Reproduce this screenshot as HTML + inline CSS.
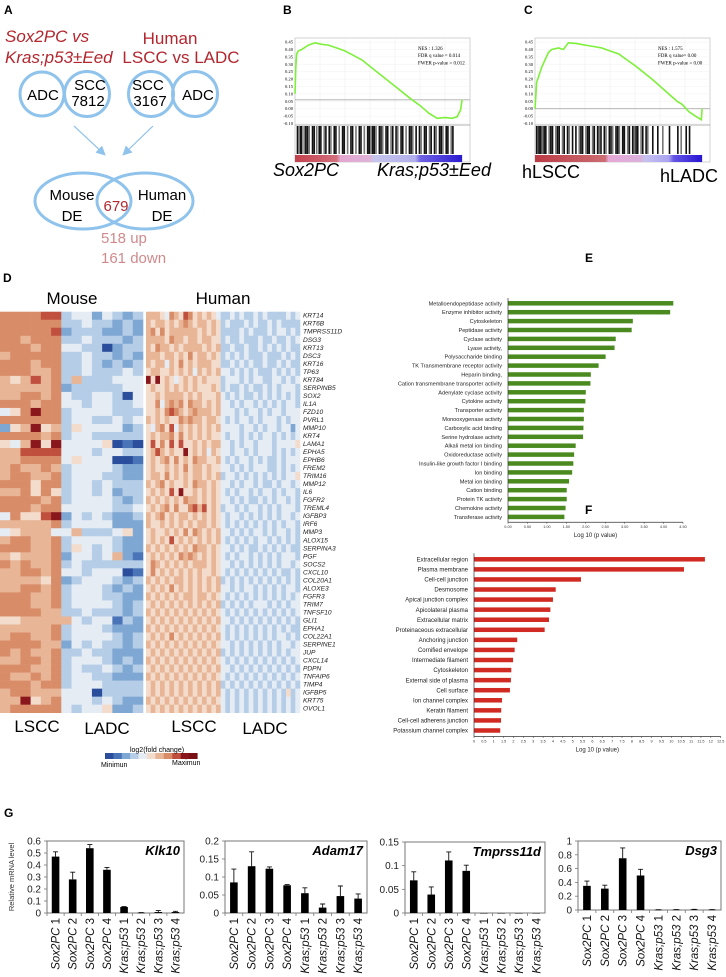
<!DOCTYPE html>
<html><head><meta charset="utf-8">
<style>
html,body{margin:0;padding:0;background:#fff;}
svg{display:block;font-family:"Liberation Sans",sans-serif;}
</style></head>
<body>
<svg id="fig" width="726" height="977" viewBox="0 0 726 977" xmlns="http://www.w3.org/2000/svg">
<defs>
<marker id="ah" markerWidth="8" markerHeight="8" refX="6" refY="4" orient="auto"><path d="M0,0 L8,4 L0,8 z" fill="#8fc3ec"/></marker>
<linearGradient id="rankB" x1="0" x2="1">
<stop offset="0" stop-color="#c2404c"/><stop offset="0.25" stop-color="#d2707c"/><stop offset="0.27" stop-color="#e3a6cf"/><stop offset="0.45" stop-color="#dfb3d8"/><stop offset="0.47" stop-color="#c6c6ec"/><stop offset="0.72" stop-color="#b1afec"/><stop offset="0.75" stop-color="#6f62e3"/><stop offset="1" stop-color="#2a1ad0"/>
</linearGradient>
<linearGradient id="rankC" x1="0" x2="1">
<stop offset="0" stop-color="#bb3a44"/><stop offset="0.42" stop-color="#cc6d72"/><stop offset="0.44" stop-color="#e6a8d6"/><stop offset="0.63" stop-color="#dbb0dc"/><stop offset="0.66" stop-color="#c6c2ef"/><stop offset="0.8" stop-color="#a9a2f0"/><stop offset="0.83" stop-color="#6555e6"/><stop offset="1" stop-color="#2614d2"/>
</linearGradient>
</defs>

<!-- Panel A -->
<g>
<text x="4" y="14" font-size="12" font-weight="bold">A</text>
<text x="5" y="42" font-size="17" font-style="italic" fill="#b3262e">Sox2PC vs</text>
<text x="5" y="63" font-size="17" font-style="italic" fill="#b3262e">Kras;p53±Eed</text>
<text x="170" y="44" font-size="17" text-anchor="middle" fill="#b3262e">Human</text>
<text x="181" y="63" font-size="17" text-anchor="middle" fill="#b3262e">LSCC vs LADC</text>
<circle cx="42" cy="94" r="22" fill="none" stroke="#8fc3ec" stroke-width="3"/>
<circle cx="87" cy="94" r="22.5" fill="none" stroke="#8fc3ec" stroke-width="3"/>
<circle cx="151" cy="94" r="22.5" fill="none" stroke="#8fc3ec" stroke-width="3"/>
<circle cx="195" cy="94" r="22.5" fill="none" stroke="#8fc3ec" stroke-width="3"/>
<text x="43" y="100" font-size="15" text-anchor="middle">ADC</text>
<text x="90" y="90" font-size="15" text-anchor="middle">SCC</text>
<text x="88" y="106" font-size="15" text-anchor="middle">7812</text>
<text x="148" y="90" font-size="15" text-anchor="middle">SCC</text>
<text x="150" y="106" font-size="15" text-anchor="middle">3167</text>
<text x="198" y="100" font-size="15" text-anchor="middle">ADC</text>
<line x1="74" y1="126" x2="104" y2="154" stroke="#8fc3ec" stroke-width="1.2" marker-end="url(#ah)"/>
<line x1="153" y1="126" x2="124" y2="154" stroke="#8fc3ec" stroke-width="1.2" marker-end="url(#ah)"/>
<ellipse cx="83" cy="201" rx="48" ry="28" fill="none" stroke="#8fc3ec" stroke-width="3"/>
<ellipse cx="145" cy="201" rx="48" ry="28" fill="none" stroke="#8fc3ec" stroke-width="3"/>
<text x="72" y="200" font-size="15" text-anchor="middle">Mouse</text>
<text x="72" y="221" font-size="15" text-anchor="middle">DE</text>
<text x="162" y="200" font-size="15" text-anchor="middle">Human</text>
<text x="162" y="221" font-size="15" text-anchor="middle">DE</text>
<text x="116" y="211" font-size="15" text-anchor="middle" fill="#b3262e">679</text>
<text x="101" y="243" font-size="15" fill="#d08a8c">518 up</text>
<text x="101" y="263" font-size="15" fill="#d08a8c">161 down</text>
</g>

<text x="283" y="14" font-size="12" font-weight="bold">B</text>
<text x="524" y="14" font-size="12" font-weight="bold">C</text>
<g id="gseaB"></g>
<g id="gseaC"></g>
<text x="273" y="176" font-size="18" font-style="italic">Sox2PC</text>
<text x="377" y="176" font-size="18" font-style="italic">Kras;p53±Eed</text>
<text x="522" y="178" font-size="18">hLSCC</text>
<text x="718" y="182" font-size="18" text-anchor="end">hLADC</text>

<!-- Panel D -->
<text x="3" y="282" font-size="12" font-weight="bold">D</text>
<text x="72" y="304" font-size="17" text-anchor="middle">Mouse</text>
<text x="223" y="304" font-size="17" text-anchor="middle">Human</text>
<g id="heat"></g>
<text x="37" y="732" font-size="17" text-anchor="middle">LSCC</text>
<text x="107" y="734" font-size="17" text-anchor="middle">LADC</text>
<text x="194" y="732" font-size="17" text-anchor="middle">LSCC</text>
<text x="265" y="734" font-size="17" text-anchor="middle">LADC</text>
<g id="cbar"></g>
<text x="157" y="752" font-size="7" text-anchor="middle">log2(fold change)</text>
<text x="101" y="767" font-size="7">Minimun</text>
<text x="172" y="765" font-size="7">Maximun</text>

<text x="585" y="262" font-size="12" font-weight="bold">E</text>
<text x="585" y="514" font-size="12" font-weight="bold">F</text>
<g id="chartE"></g>
<g id="chartF"></g>

<text x="4" y="817" font-size="12" font-weight="bold">G</text>
<text transform="translate(14,877) rotate(-90)" font-size="7.5" text-anchor="middle" fill="#333">Relative mRNA level</text>
<g id="chartG"></g>
</svg>

<script>
const NS = 'http://www.w3.org/2000/svg';
function mk(parent, tag, attrs, txt) {
  const e = document.createElementNS(NS, tag);
  for (const k in attrs) e.setAttribute(k, attrs[k]);
  if (txt !== undefined) e.textContent = txt;
  parent.appendChild(e);
  return e;
}

/* ---------- GSEA data ---------- */
const esB_x = [0,0.005,0.01,0.02,0.04,0.08,0.12,0.16,0.2,0.25,0.3,0.35,0.4,0.5,0.6,0.7,0.75,0.8,0.85,0.9,0.94,0.97,0.99,1.0];
const esB_y = [0.10,0.28,0.37,0.39,0.40,0.43,0.445,0.435,0.43,0.41,0.39,0.36,0.33,0.24,0.15,0.06,0.02,-0.03,-0.065,-0.06,-0.065,-0.055,-0.01,0.06];
const hitsB = [0.01,0.02,0.03,0.035,0.05,0.06,0.07,0.08,0.1,0.11,0.125,0.14,0.15,0.17,0.18,0.2,0.21,0.23,0.24,0.26,0.28,0.29,0.31,0.33,0.34,0.36,0.38,0.39,0.41,0.43,0.44,0.45,0.46,0.47,0.48,0.5,0.51,0.52,0.54,0.55,0.57,0.58,0.6,0.61,0.63,0.64,0.66,0.68,0.69,0.7,0.72,0.74,0.75,0.77,0.78,0.8,0.81,0.83,0.84,0.86,0.87,0.88,0.9,0.91,0.93,0.94];
const esC_x = [0,0.01,0.02,0.04,0.06,0.08,0.1,0.14,0.17,0.2,0.25,0.3,0.35,0.4,0.45,0.5,0.55,0.6,0.7,0.8,0.85,0.88,0.92,0.96,0.995,1.0];
const esC_y = [0.0,0.18,0.21,0.28,0.33,0.38,0.40,0.41,0.40,0.445,0.44,0.43,0.42,0.41,0.39,0.37,0.33,0.29,0.20,0.10,0.05,0.03,-0.02,-0.05,-0.075,0.0];
const hitsC = [0.005,0.015,0.02,0.03,0.04,0.05,0.06,0.08,0.09,0.1,0.12,0.13,0.14,0.16,0.17,0.19,0.2,0.22,0.24,0.26,0.27,0.28,0.3,0.31,0.32,0.34,0.35,0.37,0.38,0.39,0.41,0.42,0.44,0.45,0.46,0.48,0.49,0.5,0.52,0.53,0.55,0.56,0.58,0.59,0.6,0.61,0.63,0.64,0.66,0.67,0.7,0.73,0.76,0.8,0.85,0.87,0.9,0.92];
const esTicks = [0.45,0.40,0.35,0.30,0.25,0.20,0.15,0.10,0.05,0.00,-0.05,-0.10];

function gsea(gid, x0, x1, esx, esy, hits, zeroVal, grad, stats) {
  const g = document.getElementById(gid);
  const top = 38, y0 = 108.7, per = 7.4 / 0.05;
  const ys = v => y0 - v * per;
  const w = (x1 - x0) * 0.955;
  const xs = f => x0 + f * w;
  const frame = mk(g, 'rect', {x: x0, y: top, width: x1 - x0, height: 124, fill: '#fff', stroke: '#c8c8c8', 'stroke-width': 0.8});
  
  
  for (let i = 1; i < 7; i++) {
    const gl = mk(g, 'line', {x1: x0 + i * (x1 - x0) / 7, x2: x0 + i * (x1 - x0) / 7, y1: top, y2: 125, stroke: '#eee', 'stroke-width': 0.6});
    
    
  }
  esTicks.forEach(t => {
    const gl = mk(g, 'line', {x1: x0, x2: x1, y1: ys(t), y2: ys(t), stroke: '#f0f0f0', 'stroke-width': 0.5});
    
    
    const tl = mk(g, 'text', {x: x0 - 2, y: ys(t) + 1.5, 'font-size': 4.6, 'text-anchor': 'end', 'font-family': 'Liberation Serif, serif'}, t.toFixed(2));
    
    
  });
  const zl = mk(g, 'line', {x1: x0, x2: x1, y1: ys(zeroVal), y2: ys(zeroVal), stroke: '#aaa', 'stroke-width': 0.8});
  
  
  const sep = mk(g, 'line', {x1: x0, x2: x1, y1: 125, y2: 125, stroke: '#999', 'stroke-width': 0.8});
  
  
  let d = '';
  esx.forEach((f, i) => { d += (i ? 'L' : 'M') + xs(f).toFixed(1) + ',' + ys(esy[i]).toFixed(1); });
  const curve = mk(g, 'path', {d: d, fill: 'none', stroke: '#7df03a', 'stroke-width': 1.6});
  
  
  hits.forEach((h, i) => {
    const hl = mk(g, 'rect', {x: xs(h), y: 126, width: 1.6, height: 28, fill: i % 3 === 1 ? '#777' : '#111'});
    
    
  });
  const rb = mk(g, 'rect', {x: x0, y: 155, width: w, height: 7, fill: 'url(#' + grad + ')'});
  
  
  stats.forEach((s, i) => {
    const st = mk(g, 'text', {x: x1 - 52, y: 50 + i * 7.2, 'font-size': 5, 'font-family': 'Liberation Serif, serif'}, s);
    
    
  });
}
gsea('gseaB', 295, 470, esB_x, esB_y, hitsB, 0.06, 'rankB', ['NES : 1.326', 'FDR q value = 0.014', 'FWER p-value = 0.012']);
gsea('gseaC', 535, 710, esC_x, esC_y, hitsC, 0.0, 'rankC', ['NES : 1.575', 'FDR q value= 0.00', 'FWER p-value = 0.00']);

/* ---------- Heatmap data ---------- */
const genes = ['KRT14','KRT6B','TMPRSS11D','DSG3','KRT13','DSC3','KRT16','TP63','KRT84','SERPINB5','SOX2','IL1A','FZD10','PVRL1','MMP10','KRT4','LAMA1','EPHA5','EPHB6','FREM2','TRIM16','MMP12','IL6','FGFR2','TREML4','IGFBP3','IRF6','MMP3','ALOX15','SERPINA3','PGF','SOCS2','CXCL10','COL20A1','ALOXE3','FGFR3','TRIM7','TNFSF10','GLI1','EPHA1','COL22A1','SERPINE1','JUP','CXCL14','PDPN','TNFAIP6','TIMP4','IGFBP5','KRT75','OVOL1'];
const heatRows = [
"777788 34424323 6665476587565654 33434334343333434",
"777777 33433232 6566565676566565 34333434334343333",
"777778 23332232 6757566666656565 33334343334344343",
"776777 33433323 6666576656656655 34334333433433434",
"777677 44330233 6576656566665656 33433433434343433",
"677777 33433232 6665665657566565 34343433343334343",
"777677 33432323 6566465756566655 33434343343343433",
"777667 33433343 5665565656465656 44343434333434343",
"656867 36333444 9595654565656555 34443434433443434",
"666667 23333344 5655656565655565 34334343343434443",
"667767 43344304 5565666656565556 43434334343434343",
"777677 44344334 5574676757665656 44343443434343443",
"457977 34444333 5565787656766656 44434344343443444",
"777777 34433434 6565655767665665 43434434344434344",
"256956 35444423 5467584656565656 44443443434434424",
"777767 34433333 5656675756565655 43443434344343434",
"546959 44445010 5857585855656566 44343443444344445",
"668888 44434433 5686565595656465 44344343444343434",
"667777 45444001 5656757565766556 43434434343343444",
"676676 34444322 5655656575665655 44343434443343434",
"677667 34443322 5665756565665656 34434343434343445",
"777577 34434333 6567565565766565 44343443433434434",
"667575 34434233 5656585955656565 43434434344343443",
"777767 34444323 6565656576656565 44343433434344343",
"777677 44444334 5656757557868565 34434344343434443",
"475589 24343223 6567565665656565 43443434343434434",
"666667 34444222 6556565656566565 43434343434343443",
"456664 46333452 5655656575765656 44343434434344343",
"677667 34444322 5656585656565656 43434343443434343",
"777667 35434322 6565656565766565 44343433434343433",
"656667 24434621 5656565767656565 43434434343434443",
"767667 34333333 5765656565666565 44343434343434434",
"667767 44344401 5756565656565565 43434343434343343",
"666657 23444323 6565656656565656 34343434343434343",
"667767 34443232 5656575656565656 44343443434343443",
"777667 34443322 6565656566566565 43434343434343434",
"777667 34444323 5656565656565656 34343434443434344",
"777766 33433323 6565656565656565 43434343434343434",
"556666 64344132 5656565656565656 44343434343434343",
"666667 34443222 6565656565656565 43434343434343433",
"677667 34444323 5656575656565656 43434343434344343",
"777766 24343323 6565656565656565 44343434343434434",
"767667 33433222 5656565656565656 34343434343434344",
"667767 34443232 6565656565656565 43434343434343434",
"777667 34334323 5656565656565656 44343434343434343",
"766767 34433222 6565656565656565 43434343434343434",
"777677 34443333 5656565656565656 34343434343434343",
"677666 44403333 5656565656565656 43434343434343534",
"669567 44434322 6565656565656565 43434343434343434",
"677777 43445223 5656565656565656 43434343434343434"
];
const heatPalette = ['#2a4d9c','#4a74b8','#7fa7d3','#b5cde6','#e5ecf4','#f3dccc','#e8b597','#d98c68','#c0503d','#8a171c'];

(function () {
  const g = document.getElementById('heat');
  const top = 311.7, rh = 8.02;
  const mW = 143 / 14, hx0 = 146, hW = 154 / 33;
  heatRows.forEach((row, r) => {
    const vals = row.replace(/ /g, '').split('').map(Number);
    vals.forEach((v, c) => {
      const x = c < 14 ? c * mW : hx0 + (c - 14) * hW;
      const w = c < 14 ? mW : hW;
      const cell = mk(g, 'rect', {x: x.toFixed(2), y: (top + r * rh).toFixed(2), width: (w + 0.3).toFixed(2), height: rh + 0.3, fill: heatPalette[v]});
      
      
    });
    const lbl = mk(g, 'text', {x: 303, y: (top + r * rh + 6).toFixed(1), 'font-size': 6.6, 'font-style': 'italic', fill: '#222'}, genes[r]);
    
    
  });
  const cb = document.getElementById('cbar');
  heatPalette.concat(['#7a1015']).forEach((c, i) => {
    const s = mk(cb, 'rect', {x: 105 + i * 8.4, y: 753, width: 8.6, height: 6, fill: c});
    
    
  });
})();

/* ---------- GO bar charts ---------- */
const goE_labels = ['Metalloendopeptidase activity','Enzyme inhibitor activity','Cytoskeleton','Peptidase activity','Cyclase activity','Lyase activity,','Polysaccharide binding','TK Transmembrane receptor  activity','Heparin binding,','Cation transmembrane transporter activity','Adenylate cyclase activity','Cytokine activity','Transporter activity','Monooxygenase activity','Carboxylic acid binding','Serine hydrolase activity','Alkali metal ion binding','Oxidoreductase activity','Insulin-like growth factor I binding','Ion binding','Metal ion binding','Cation binding','Protein TK activity','Chemokine activity','Transferase activity'];
const goE_values = [4.25,4.17,3.21,3.18,2.77,2.74,2.51,2.33,2.13,2.12,2.0,1.99,1.95,1.95,1.94,1.93,1.74,1.70,1.68,1.65,1.57,1.51,1.51,1.48,1.45];
const goE_ticks = ['0.00','0.50','1.00','1.50','2.00','2.50','3.00','3.50','4.00','4.50'];
const goF_labels = ['Extracellular region','Plasma membrane','Cell-cell junction','Desmosome','Apical junction complex','Apicolateral plasma','Extracellular matrix','Proteinaceous extracellular','Anchoring junction','Cornified envelope','Intermediate filament','Cytoskeleton','External side of plasma','Cell surface','Ion channel complex','Keratin filament','Cell-cell adherens junction','Potassium channel complex'];
const goF_values = [11.7,10.64,5.42,4.14,4.0,3.87,3.8,3.58,2.19,2.06,1.98,1.89,1.87,1.82,1.42,1.38,1.37,1.33];
const goF_ticks = ['0','0.5','1','1.5','2','2.5','3','3.5','4','4.5','5','5.5','6','6.5','7','7.5','8','8.5','9','9.5','10','10.5','11','11.5','12','12.5'];

function goChart(gid, labels, values, ticks, x0, xMax, pxMax, y0, step, color, barH, labFs) {
  const g = document.getElementById(gid);
  const xs = v => x0 + v / xMax * pxMax;
  const n = labels.length;
  const axisY = y0 + (n - 1) * step + step * 0.6;
  labels.forEach((l, i) => {
    const y = y0 + i * step;
    const b = mk(g, 'rect', {x: x0, y: y - barH / 2, width: xs(values[i]) - x0, height: barH, fill: color});
    
    
    const t = mk(g, 'text', {x: x0 - 6, y: y + labFs * 0.36, 'font-size': labFs, 'text-anchor': 'end', fill: '#222'}, l);
    
    
  });
  const ya = mk(g, 'line', {x1: x0, x2: x0, y1: y0 - step * 0.6, y2: axisY, stroke: '#333', 'stroke-width': 0.7});
  
  
  const xa = mk(g, 'line', {x1: x0, x2: x0 + pxMax, y1: axisY, y2: axisY, stroke: '#333', 'stroke-width': 0.7});
  
  
  ticks.forEach(t => {
    const x = xs(parseFloat(t));
    const tk = mk(g, 'line', {x1: x, x2: x, y1: axisY, y2: axisY + 1.5, stroke: '#333', 'stroke-width': 0.5});
    
    
    const tl = mk(g, 'text', {x: x, y: axisY + 6, 'font-size': 3.8, 'text-anchor': 'middle', fill: '#333'}, t);
    
    
  });
  const ti = mk(g, 'text', {x: x0 + pxMax / 2, y: axisY + 15, 'font-size': 6, 'text-anchor': 'middle', fill: '#222'}, 'Log 10 (p value)');
  
  
}
goChart('chartE', goE_labels, goE_values, goE_ticks, 508, 4.5, 175, 303.3, 8.9, '#4a8a1f', 4.5, 5.6);
goChart('chartF', goF_labels, goF_values, goF_ticks, 474, 12.5, 246.7, 559.3, 10.07, '#d02a22', 4.5, 6);

/* ---------- qPCR charts ---------- */
const samples = ['Sox2PC 1','Sox2PC 2','Sox2PC 3','Sox2PC 4','Kras;p53 1','Kras;p53 2','Kras;p53 3','Kras;p53 4'];
const klk10_vals = [0.47,0.28,0.54,0.36,0.05,0.002,0.008,0.008];
const klk10_err = [0.04,0.06,0.03,0.02,0.004,0.002,0.012,0.006];
const adam17_vals = [0.085,0.13,0.123,0.077,0.055,0.015,0.047,0.04];
const adam17_err = [0.037,0.04,0.005,0.002,0.015,0.01,0.028,0.013];
const tmprss_vals = [0.069,0.039,0.111,0.089,0,0,0,0];
const tmprss_err = [0.018,0.016,0.018,0.012,0,0,0,0];
const dsg3_vals = [0.35,0.31,0.75,0.5,0.004,0.005,0.008,0.005];
const dsg3_err = [0.07,0.05,0.15,0.09,0.001,0.001,0.002,0.001];
const klk10_ticks = [0,0.1,0.2,0.3,0.4,0.5,0.6];
const adam17_ticks = [0,0.05,0.1,0.15,0.2];
const tmprss_ticks = [0,0.05,0.1,0.15];
const dsg3_ticks = [0,0.2,0.4,0.6,0.8,1];

function qpcr(title, vals, errs, ticks, x0, x1, yTop, yBot) {
  const g = document.getElementById('chartG');
  const max = ticks[ticks.length - 1];
  const ys = v => yBot - v / max * (yBot - yTop);
  const step = (x1 - x0) / samples.length;
  const box = mk(g, 'rect', {x: x0, y: yTop, width: x1 - x0, height: yBot - yTop, fill: 'none', stroke: '#777', 'stroke-width': 1});
  
  
  ticks.forEach(t => {
    const tl = mk(g, 'text', {x: x0 - 6, y: ys(t) + 3.5, 'font-size': 10, 'text-anchor': 'end', fill: '#222'}, String(t));
    
    
    const tk = mk(g, 'line', {x1: x0 - 3, x2: x0, y1: ys(t), y2: ys(t), stroke: '#777', 'stroke-width': 0.8});
    
    
  });
  samples.forEach((s, i) => {
    const cx = x0 + step * (i + 0.5);
    const tk = mk(g, 'line', {x1: x0 + step * i, x2: x0 + step * i, y1: yBot, y2: yBot + 3, stroke: '#777', 'stroke-width': 0.8});
    
    
    const top = ys(vals[i] + errs[i]);
    if (errs[i] > 0) {
      const el = mk(g, 'path', {d: 'M' + cx + ',' + ys(vals[i]) + 'V' + top + 'M' + (cx - 2.5) + ',' + top + 'H' + (cx + 2.5), stroke: '#111', 'stroke-width': 0.9, fill: 'none'});
      
      
    }
    const b = mk(g, 'rect', {x: cx - 3.8, y: ys(vals[i]), width: 7.6, height: Math.max(0.5, yBot - ys(vals[i])), fill: '#000'});
    
    
    const parts = s.split(' ');
    const tl = mk(g, 'text', {transform: 'translate(' + (cx + 4) + ',' + (yBot + 5) + ') rotate(-90)', 'font-size': 11.5, 'text-anchor': 'end', fill: '#111'});
    
    
    const a = mk(tl, 'tspan', {'font-style': 'italic'}, parts[0]);
    const b2 = mk(tl, 'tspan', {}, ' ' + parts[1]);
  });
  const t = mk(g, 'text', {x: x1 - 4, y: yTop + 14, 'font-size': 13, 'font-weight': 'bold', 'font-style': 'italic', 'text-anchor': 'end'}, title);
  
  
}
qpcr('Klk10', klk10_vals, klk10_err, klk10_ticks, 47, 184, 841, 913);
qpcr('Adam17', adam17_vals, adam17_err, adam17_ticks, 225, 367, 841, 913);
qpcr('Tmprss11d', tmprss_vals, tmprss_err, tmprss_ticks, 405, 545, 842, 913);
qpcr('Dsg3', dsg3_vals, dsg3_err, dsg3_ticks, 578, 721, 841, 910);
</script>
</body></html>
